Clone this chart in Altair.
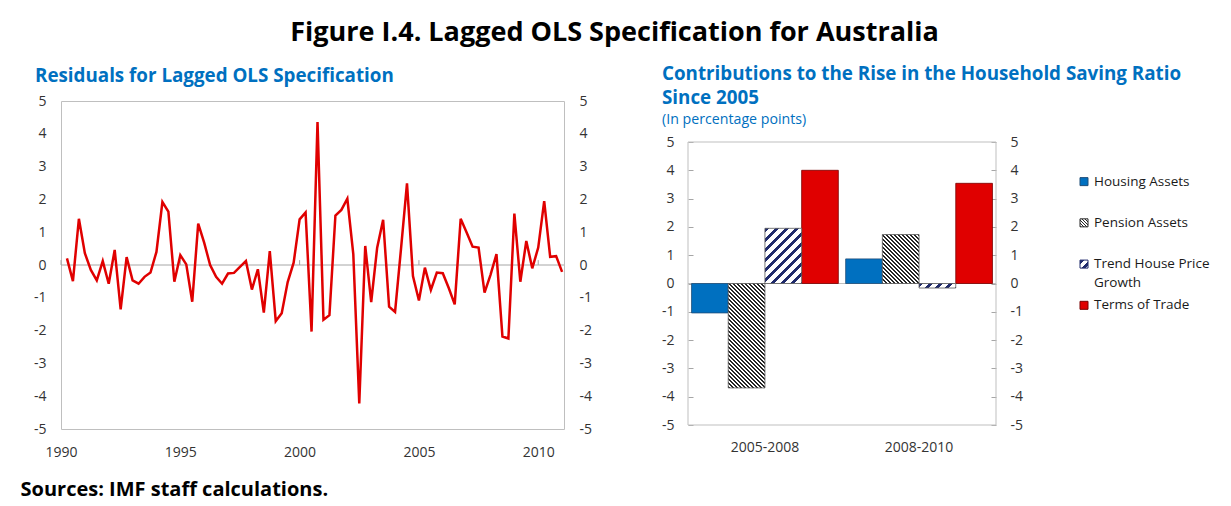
import altair as alt
import pandas as pd

FONT = "Open Sans"
TITLE_BLUE = "#0070C0"
LABEL = "#333333"

# ---------------- data ----------------
residuals = [
    0.20, -0.49, 1.41, 0.36, -0.15, -0.47, 0.12, -0.57, 0.46, -1.35,
    0.24, -0.47, -0.57, -0.36, -0.23, 0.40, 1.92, 1.63, -0.51, 0.30,
    0.02, -1.12, 1.26, 0.68, 0.00, -0.36, -0.57, -0.26, -0.24, -0.06,
    0.12, -0.75, -0.13, -1.45, 0.42, -1.71, -1.47, -0.52, 0.07, 1.39,
    1.60, -2.03, 4.36, -1.67, -1.53, 1.51, 1.68, 2.02, 0.33, -4.22,
    0.58, -1.13, 0.53, 1.38, -1.27, -1.43, 0.50, 2.49, -0.34, -1.08,
    -0.08, -0.76, -0.23, -0.25, -0.70, -1.20, 1.41, 0.99, 0.56, 0.53,
    -0.84, -0.30, 0.33, -2.18, -2.24, 1.57, -0.51, 0.73, -0.10, 0.53,
    1.95, 0.25, 0.27, -0.21,
]
first_quarter = 1990.25  # 1990Q2
quarter_step = 0.25
year_ticks = [1990, 1995, 2000, 2005, 2010]
value_ticks = [-5, -4, -3, -2, -1, 0, 1, 2, 3, 4, 5]

periods = ["2005-2008", "2008-2010"]
series = ["Housing Assets", "Pension Assets", "Trend House Price Growth", "Terms of Trade"]
housing_assets = [-1.04, 0.87]
pension_assets = [-3.69, 1.73]
trend_house_price = [1.95, -0.16]
terms_of_trade = [4.00, 3.54]
legend_line1 = ["Housing Assets", "Pension Assets", "Trend House Price", "Terms of Trade"]
legend_line2 = ["", "", "Growth", ""]

# ---------------- layout / style ----------------
W1, H1 = 503, 328
W2, H2 = 308, 283
OFF2 = 41                      # right plot sits this much lower than the left plot
PAD_IN, PAD_OUT = 0.0475, 0.023
STEP = W2 / (2 - PAD_IN + 2 * PAD_OUT)
BAR_W = STEP * (1 - PAD_IN) / len(series)
PX_PER_UNIT = H2 / 10.0
HYPHEN_LABEL = "'' + datum.value"

ys1 = alt.Scale(domain=[-5, 5], nice=False, zero=False)
ys2 = alt.Scale(domain=[-5, 5], nice=False, zero=False, range=[OFF2 + H2, OFF2])


def stripe_fill(height_px, width_px, direction, period, frac, dark, light):
    """Diagonal hatching built from a hard-stop linear gradient (45 degrees)."""
    w, h = width_px, max(height_px, 0.5)
    s = h / w
    k = (1 + s) / (1 + s * s)
    if direction == "/":
        x1, y1, x2, y2 = 0, 0, k, k * s
    else:
        x1, y1, x2, y2 = 0, 1, k, 1 - k * s
    span = w + h
    stops = []
    m = 0
    while m * period < span:
        t0 = min(1.0, m * period / span)
        t1 = min(1.0, (m + frac) * period / span)
        t2 = min(1.0, (m + 1) * period / span)
        stops += [
            {"offset": t0, "color": dark},
            {"offset": t1, "color": dark},
            {"offset": t1, "color": light},
            {"offset": t2, "color": light},
        ]
        m += 1
    return {"gradient": "linear", "x1": x1, "y1": y1, "x2": x2, "y2": y2, "stops": stops}


# ---------------- left panel: residuals ----------------
res_df = pd.DataFrame({
    "t": [first_quarter + quarter_step * i for i in range(len(residuals))],
    "r": residuals,
})
xs1 = alt.Scale(domain=[1990, 2011.08], nice=False, zero=False)
x_axis1 = alt.Axis(
    values=year_ticks, format="d", labelPadding=16, labelFlush=False,
    title="Sources: IMF staff calculations.", titleX=-41, titleY=66,
    titleAlign="left", titleBaseline="alphabetic", titleFontSize=20,
    titleFontWeight="bold", titleColor="black", titleFont=FONT,
)
yl_left = alt.Axis(orient="left", values=value_ticks, labelPadding=15, title=None, labelExpr=HYPHEN_LABEL)
yl_right = alt.Axis(orient="right", values=value_ticks, labelPadding=15, title=None, labelExpr=HYPHEN_LABEL)

zero1 = alt.Chart(pd.DataFrame({"r": [0]})).mark_rule(color="#A6A6A6", strokeWidth=1).encode(
    y=alt.Y("r:Q", scale=ys1, axis=None)
)
tick_df = pd.DataFrame({"t": year_ticks, "r": [0] * len(year_ticks), "hi": [0.15] * len(year_ticks)})
ticks1 = alt.Chart(tick_df).mark_rule(color="#A6A6A6", strokeWidth=1).encode(
    x=alt.X("t:Q", scale=xs1, axis=x_axis1),
    y=alt.Y("r:Q", scale=ys1, axis=yl_right),
    y2="hi:Q",
)
line = alt.Chart(res_df).mark_line(color="#E00000", strokeWidth=2.5).encode(
    x=alt.X("t:Q", scale=xs1, axis=x_axis1),
    y=alt.Y("r:Q", scale=ys1, axis=yl_left),
)

left = alt.layer(zero1, ticks1, line).resolve_axis(y="independent").properties(
    width=W1, height=H1,
    title=alt.TitleParams(
        text="Residuals for Lagged OLS Specification", anchor="start", frame="group",
        dx=-26, fontSize=18.8, font=FONT, fontWeight="bold", color=TITLE_BLUE, offset=8,
    ),
)

# ---------------- right panel: contributions ----------------
values = housing_assets + pension_assets + trend_house_price + terms_of_trade
bar_df = pd.DataFrame({
    "period": periods * len(series),
    "series": [s for s in series for _ in periods],
    "value": values,
})

x_axis2 = alt.Axis(labelPadding=15, labelAngle=0, title=None)
x2 = alt.X("period:N", scale=alt.Scale(domain=periods, paddingInner=PAD_IN, paddingOuter=PAD_OUT), axis=x_axis2)

# inward tick marks: axis pulled 5px into the plot with 5px outward ticks
yr_left = alt.Axis(orient="left", values=value_ticks, labelPadding=14, title=None, offset=-5,
                   ticks=True, tickSize=5, tickColor="#A6A6A6", labelExpr=HYPHEN_LABEL)
yr_right = alt.Axis(orient="right", values=value_ticks, labelPadding=14, title=None, offset=-5,
                    ticks=True, tickSize=5, tickColor="#A6A6A6", labelExpr=HYPHEN_LABEL)

base = alt.Chart(bar_df)


def dodge(sname):
    j = series.index(sname)
    return (j - (len(series) - 1) / 2.0) * BAR_W


bar_layers = []
solid_style = {
    series[0]: ("#0070C0", "#1F4E79", yr_left),
    series[3]: ("#E00000", "#7A0000", yr_right),
}
for sname, (fc, sc, ax) in solid_style.items():
    bar_layers.append(
        base.transform_filter(alt.datum.series == sname).mark_bar(
            fill=fc, stroke=sc, strokeWidth=0.8, width=BAR_W, xOffset=dodge(sname)
        ).encode(x=x2, y=alt.Y("value:Q", scale=ys2, axis=ax))
    )

hatch_style = {
    series[1]: ("\\", 4.0, 0.5, "#262626", "#FFFFFF", "#595959"),
    series[2]: ("/", 10.0, 0.38, "#1F2A6B", "#FFFFFF", "#595959"),
}
for sname, vals in ((series[1], pension_assets), (series[2], trend_house_price)):
    direction, period, frac, dark, light, edge = hatch_style[sname]
    for per, v in zip(periods, vals):
        fill = stripe_fill(abs(v) * PX_PER_UNIT, BAR_W, direction, period, frac, dark, light)
        bar_layers.append(
            base.transform_filter(
                (alt.datum.series == sname) & (alt.datum.period == per)
            ).mark_bar(
                fill=fill, stroke=edge, strokeWidth=0.8, width=BAR_W, xOffset=dodge(sname)
            ).encode(x=x2, y=alt.Y("value:Q", scale=ys2, axis=None))
        )

zero2 = alt.Chart(pd.DataFrame({"value": [0]})).mark_rule(color="#BFBFBF", strokeWidth=1).encode(
    y=alt.Y("value:Q", scale=ys2, axis=None)
)
frame2 = alt.Chart(pd.DataFrame({"lo": [-5], "hi": [5]})).mark_rect(
    fill="transparent", stroke="#BFBFBF", strokeWidth=1
).encode(y=alt.Y("hi:Q", scale=ys2, axis=None), y2="lo:Q")

# legend (hand made so the hatched swatches can be shown), placed right of the plot
leg_df = pd.DataFrame({"series": series, "idx": list(range(len(series))), "l1": legend_line1, "l2": legend_line2})
LEG_TOP, LEG_STEP = 3.6, 1.457
leg_base = alt.Chart(leg_df).transform_calculate(pos=f"{LEG_TOP} - {LEG_STEP} * datum.idx")
leg_y = alt.Y("pos:Q", scale=ys2, axis=None)
swatch_style = {
    series[0]: ("#0070C0", "#1F4E79"),
    series[1]: (stripe_fill(8, 8, "\\", 3.0, 0.5, "#262626", "#FFFFFF"), "#262626"),
    series[2]: (stripe_fill(8, 8, "/", 9.0, 0.45, "#1F2A6B", "#FFFFFF"), "#1F2A6B"),
    series[3]: ("#E00000", "#7A0000"),
}
leg_layers = []
for sname in series:
    f, st = swatch_style[sname]
    leg_layers.append(
        leg_base.transform_filter(alt.datum.series == sname).mark_square(
            size=64, fill=f, stroke=st, strokeWidth=1, opacity=1
        ).encode(x=alt.value(396), y=leg_y)
    )
leg_text1 = leg_base.mark_text(
    align="left", baseline="middle", fontSize=13.5, font=FONT, color="#1A1A1A"
).encode(x=alt.value(406), y=leg_y, text="l1:N")
leg_text2 = leg_base.transform_filter(alt.datum.l2 != "").mark_text(
    align="left", baseline="middle", fontSize=13.5, font=FONT, color="#1A1A1A", dy=19.3
).encode(x=alt.value(406), y=leg_y, text="l2:N")

right = alt.layer(
    frame2, zero2, *bar_layers, *leg_layers, leg_text1, leg_text2
).resolve_axis(y="independent").properties(
    width=W2, height=H2 + OFF2,
    view=alt.ViewBackground(strokeOpacity=0),
    title=alt.TitleParams(
        text=["Contributions to the Rise in the Household Saving Ratio", "Since 2005"],
        subtitle="(In percentage points)", anchor="start", frame="group", dx=-26,
        fontSize=18.8, font=FONT, fontWeight="bold", color=TITLE_BLUE, lineHeight=24,
        subtitleFontSize=14.2, subtitleColor=TITLE_BLUE, subtitleFont=FONT,
        subtitlePadding=5, offset=-26,
    ),
)

chart = alt.hconcat(left, right, spacing=68).properties(
    title=alt.TitleParams(
        text="Figure I.4. Lagged OLS Specification for Australia", anchor="middle",
        fontSize=27, font=FONT, fontWeight="bold", color="black", offset=18,
    ),
    padding={"left": 11, "top": 11, "right": 0, "bottom": 0},
).configure_view(stroke="#BFBFBF", strokeWidth=1).configure_axis(
    labelFont=FONT, labelFontSize=14, labelColor=LABEL, ticks=False, domain=False, grid=False
)

chart.save("out.html", embed_options={"renderer": "svg", "actions": False})
